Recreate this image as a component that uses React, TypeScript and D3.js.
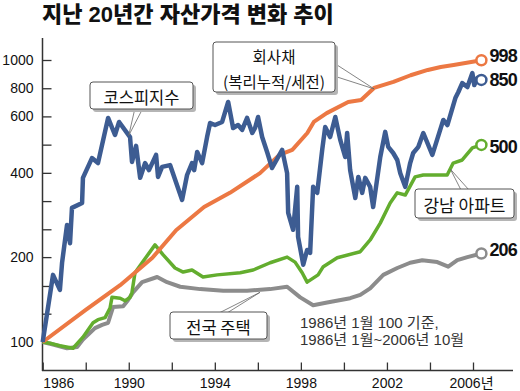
import React, { useRef, useEffect } from "react";
import * as d3 from "d3";

// [year, index] pairs, 1986 Jan = 100
const kospi: [number, number][] = [
  [1986.0, 100], [1986.48, 173], [1986.8, 153], [1986.9, 191], [1987.13, 260],
  [1987.27, 224], [1987.36, 299], [1987.83, 311], [1987.87, 382], [1988.29, 449],
  [1988.57, 431], [1989.04, 623], [1989.36, 542], [1989.55, 603], [1990.06, 533],
  [1990.15, 435], [1990.34, 496], [1990.53, 382], [1990.76, 431], [1990.94, 407],
  [1991.27, 461], [1991.36, 385], [1991.55, 418], [1991.92, 424], [1992.48, 319],
  [1992.71, 391], [1992.94, 431], [1993.04, 407], [1993.18, 472], [1993.41, 431],
  [1993.64, 533], [1993.78, 598], [1994.01, 588], [1994.34, 603], [1994.62, 710],
  [1994.85, 574], [1995.08, 588], [1995.27, 565], [1995.5, 623], [1995.74, 551],
  [1995.87, 574], [1996.01, 628], [1996.2, 533], [1996.43, 472], [1996.66, 414],
  [1997.13, 480], [1997.36, 397], [1997.41, 287], [1997.64, 250], [1997.83, 355],
  [1997.87, 236], [1998.11, 188], [1998.29, 212], [1998.43, 207], [1998.57, 355],
  [1998.76, 338], [1998.99, 480], [1999.13, 579], [1999.36, 533], [1999.6, 628],
  [1999.83, 521], [2000.06, 453], [2000.15, 551], [2000.29, 407], [2000.53, 324],
  [2000.67, 385], [2000.85, 338], [2000.99, 382], [2001.22, 355], [2001.36, 301],
  [2001.69, 453], [2001.92, 556], [2002.06, 492], [2002.29, 468], [2002.48, 442],
  [2002.62, 397], [2002.85, 355], [2003.08, 431], [2003.22, 468], [2003.46, 492],
  [2003.69, 551], [2004.11, 461], [2004.62, 613], [2004.81, 588], [2005.18, 733],
  [2005.32, 770], [2005.5, 828], [2005.74, 802], [2005.97, 899], [2006.06, 815],
  [2006.2, 863], [2006.39, 850],
];

const bond: [number, number][] = [
  [1986.0, 100], [1988.0, 130], [1989.6, 159], [1991.1, 199], [1992.2, 249],
  [1993.5, 301], [1994.7, 338], [1996.1, 397], [1997.0, 461], [1997.6, 480],
  [1998.3, 551], [1998.6, 603], [1999.2, 648], [2000.2, 710], [2000.8, 721],
  [2001.4, 796], [2002.3, 836], [2003.1, 883], [2003.9, 922], [2004.5, 945],
  [2005.1, 960], [2006.39, 998],
];

const gangnam: [number, number][] = [
  [1986.0, 100], [1986.34, 99], [1986.8, 97], [1987.41, 95], [1987.87, 104],
  [1988.34, 117], [1988.57, 120], [1988.9, 122], [1989.13, 132], [1989.22, 144],
  [1989.6, 143], [1989.83, 140], [1990.06, 144], [1990.15, 150], [1990.29, 176],
  [1990.62, 191], [1991.22, 221], [1991.59, 204], [1992.15, 183], [1992.53, 177],
  [1992.94, 180], [1993.45, 170], [1994.11, 173], [1995.18, 176], [1995.78, 180],
  [1996.57, 191], [1997.36, 200], [1997.73, 192], [1998.06, 176], [1998.29, 163],
  [1998.8, 173], [1999.04, 185], [1999.69, 199], [2000.76, 209], [2001.22, 230],
  [2001.69, 264], [2002.15, 311], [2002.48, 338], [2002.85, 332], [2003.31, 385],
  [2003.69, 391], [2004.8, 391], [2005.08, 431], [2005.5, 442], [2005.97, 488],
  [2006.39, 500],
];

const housing: [number, number][] = [
  [1986.0, 100], [1986.48, 98], [1987.13, 95], [1987.6, 96], [1987.87, 102],
  [1988.43, 112], [1988.76, 115], [1989.04, 117], [1989.27, 133], [1989.74, 134],
  [1989.97, 141], [1990.2, 150], [1990.62, 163], [1991.32, 170], [1991.78, 163],
  [1992.39, 157], [1993.32, 154], [1994.39, 152], [1995.5, 152], [1996.57, 154],
  [1997.36, 157], [1997.97, 144], [1998.57, 135], [1999.22, 138], [2000.29, 143],
  [2000.76, 147], [2001.22, 155], [2001.83, 173], [2002.48, 183], [2003.08, 191],
  [2003.64, 195], [2004.34, 192], [2004.85, 185], [2005.27, 195], [2005.74, 200],
  [2006.39, 206],
];

const yTickValues = [100, 126, 158, 200, 251, 316, 398, 501, 631, 794, 1000];
const yTickLabels = ["100", "", "", "200", "", "", "400", "", "600", "800", "1000"];
const xTickYears = [1986, 1988, 1990, 1992, 1994, 1996, 1998, 2000, 2002, 2004, 2006];
const xTickLabels = ["1986", "", "1990", "", "1994", "", "1998", "", "2002", "", "2006년"];

const COLORS = {
  kospi: "#3d5c92",
  bond: "#ec7843",
  gangnam: "#63ad2e",
  housing: "#8c8c8c",
};

const KR = "'Noto Sans CJK KR', 'Noto Sans', sans-serif";
const NUM = "'Liberation Sans', Arial, sans-serif";
const MIX = "'Liberation Sans', 'Noto Sans CJK KR', sans-serif";

const App: React.FC = () => {
  const ref = useRef<SVGSVGElement | null>(null);

  useEffect(() => {
    const svg = d3.select(ref.current);
    svg.selectAll("*").remove();

    const x = d3.scaleLinear().domain([1986, 2006]).range([42.7, 473]);
    const y = d3.scaleLog().domain([100, 1000]).range([342, 60]);

    svg.append("rect").attr("width", 520).attr("height", 391).attr("fill", "#fff");

    // title
    svg
      .append("text")
      .attr("x", 42)
      .attr("y", 21.5)
      .attr("font-family", MIX)
      .attr("font-weight", 900)
      .attr("font-size", 22)
      .attr("fill", "#111")
      .text("지난 20년간 자산가격 변화 추이");

    // axes lines
    svg.append("line").attr("x1", 42.5).attr("x2", 42.5).attr("y1", 38).attr("y2", 371)
      .attr("stroke", "#333").attr("stroke-width", 1.5);
    svg.append("line").attr("x1", 42).attr("x2", 513).attr("y1", 370.5).attr("y2", 370.5)
      .attr("stroke", "#333").attr("stroke-width", 1.5);

    const yAxis = svg
      .append("g")
      .attr("transform", "translate(42.5,0)")
      .call(
        d3
          .axisLeft(y)
          .tickValues(yTickValues)
          .tickSize(-9)
          .tickPadding(9)
          .tickFormat((_, i) => yTickLabels[i])
      );
    yAxis.select(".domain").remove();
    yAxis.selectAll("line").attr("stroke", "#333").attr("stroke-width", 1.3);
    yAxis.selectAll("text").attr("font-family", NUM).attr("font-size", 14).attr("fill", "#111");

    const xAxis = svg
      .append("g")
      .attr("transform", "translate(0,370.5)")
      .call(
        d3
          .axisBottom(x)
          .tickValues(xTickYears)
          .tickSize(-8)
          .tickPadding(7.5)
          .tickFormat((_, i) => xTickLabels[i])
      );
    xAxis.select(".domain").remove();
    xAxis.selectAll("line").attr("stroke", "#333").attr("stroke-width", 1.3);
    xAxis
      .selectAll("text")
      .attr("font-family", NUM)
      .attr("font-size", 14)
      .attr("fill", "#111")
      .attr("text-anchor", (_, i) => (i === 0 ? "start" : "middle"));
    xAxis.selectAll("text").filter((_, i) => i === 10).attr("font-family", MIX).attr("dx", -2);

    const line = d3
      .line<[number, number]>()
      .x((d) => x(d[0]))
      .y((d) => y(d[1]));

    const series: { data: [number, number][]; color: string; w: number; label: string; dy: number }[] = [
      { data: housing, color: COLORS.housing, w: 4, label: "206", dy: -3 },
      { data: gangnam, color: COLORS.gangnam, w: 3.5, label: "500", dy: 2 },
      { data: bond, color: COLORS.bond, w: 4, label: "998", dy: -4 },
      { data: kospi, color: COLORS.kospi, w: 4.5, label: "850", dy: 0 },
    ];

    series.forEach((s) => {
      svg
        .append("path")
        .datum(s.data)
        .attr("fill", "none")
        .attr("stroke", s.color)
        .attr("stroke-width", s.w)
        .attr("stroke-linejoin", "round")
        .attr("d", line);
    });

    series.forEach((s) => {
      const last = s.data[s.data.length - 1];
      svg
        .append("circle")
        .attr("cx", x(last[0]))
        .attr("cy", y(last[1]))
        .attr("r", 5)
        .attr("fill", "#fff")
        .attr("stroke", s.color)
        .attr("stroke-width", 2.5);
      svg
        .append("text")
        .attr("x", x(last[0]) + 8)
        .attr("y", y(last[1]) + s.dy)
        .attr("dominant-baseline", "central")
        .attr("font-family", NUM)
        .attr("font-weight", 700)
        .attr("font-size", 18)
        .attr("letter-spacing", -0.8)
        .attr("fill", "#111")
        .text(s.label);
    });

    // callout boxes
    const callout = (
      bx: number,
      by: number,
      bw: number,
      bh: number,
      lines: string[],
      fs: number,
      base: [number, number][],
      tip: [number, number]
    ) => {
      const g = svg.append("g");
      g.append("polygon")
        .attr("points", [base[0], tip, base[1]].map((p) => p.join(",")).join(" "))
        .attr("fill", "#fff")
        .attr("stroke", "#666")
        .attr("stroke-width", 0.8);
      g.append("rect")
        .attr("x", bx + 3).attr("y", by + 3).attr("width", bw).attr("height", bh)
        .attr("rx", 3).attr("fill", "#b5b5b5");
      g.append("rect")
        .attr("x", bx).attr("y", by).attr("width", bw).attr("height", bh)
        .attr("rx", 3).attr("fill", "#fff").attr("stroke", "#555").attr("stroke-width", 1);
      const lh = bh / lines.length;
      lines.forEach((t, i) => {
        g.append("text")
          .attr("x", bx + bw / 2)
          .attr("y", by + lh * i + lh / 2 + 1)
          .attr("text-anchor", "middle")
          .attr("dominant-baseline", "central")
          .attr("font-family", KR)
          .attr("font-size", fs)
          .attr("fill", "#111")
          .text(t);
      });
    };

    callout(90, 82, 103, 27, ["코스피지수"], 16.5, [[135, 108], [143, 108]], [x(1990.0), y(540)]);
    callout(213, 42, 122, 50, ["회사채", "(복리누적/세전)"], 15.5, [[334, 63], [334, 76]], [x(2001.4), y(790)]);
    callout(415, 189, 99, 29, ["강남 아파트"], 17, [[461, 190], [469, 190]], [x(2004.95), y(410)]);
    callout(170, 312, 97, 27, ["전국 주택"], 16.5, [[219, 313], [227, 313]], [x(1996.1), y(150)]);

    // note
    const noteLines = ["1986년 1월 100 기준,", "1986년 1월~2006년 10월"];
    noteLines.forEach((t, i) => {
      svg
        .append("text")
        .attr("x", 300)
        .attr("y", 328 + i * 16.5)
        .attr("font-family", MIX)
        .attr("font-size", 15)
        .attr("fill", "#333")
        .text(t);
    });
  }, []);

  return (
    <svg
      ref={ref}
      width={520}
      height={391}
      style={{ position: "absolute", left: 0, top: 0 }}
    />
  );
};

export default App;
